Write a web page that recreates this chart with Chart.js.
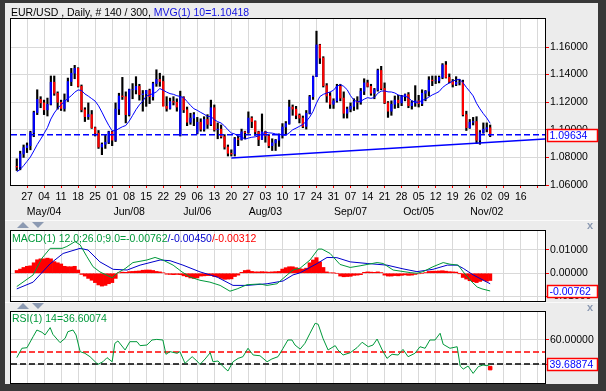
<!DOCTYPE html>
<html>
<head>
<meta charset="utf-8">
<script src="https://cdn.jsdelivr.net/npm/chart.js@4.4.1/dist/chart.umd.min.js"></script>
<style>
  html, body { margin: 0; padding: 0; }
  body { width: 606px; height: 391px; background: #383838; position: relative; overflow: hidden;
         font-family: "Liberation Sans", Arial, sans-serif; }
  #inner { position: absolute; left: 5px; top: 3px; width: 593px; height: 381px; background: #ececec; }
  canvas { position: absolute; left: 0; }
  .sep { position: absolute; left: 5px; width: 593px; height: 1px; background: #fafafa; }
  .txt { position: absolute; font-size: 10.5px; line-height: 12px; white-space: nowrap; z-index: 2; }
  .up, .down { position: absolute; width: 0; height: 0; z-index: 2;
               border-left: 6px solid transparent; border-right: 6px solid transparent; }
  .up { border-bottom: 6px solid #8c9ab2; }
  .down { border-top: 6px solid #8c9ab2; }
  .close { position: absolute; left: 587px; font: bold 11px Arial, sans-serif; line-height: 9px; color: #8c9ab2; z-index: 2; }
</style>
</head>
<body>
<div id="inner"></div>
<div class="sep" style="top:220px"></div>
<div class="sep" style="top:302px"></div>

<canvas id="price" width="606" height="220" style="top:0"></canvas>
<canvas id="macd" width="606" height="82" style="top:220px"></canvas>
<canvas id="rsi" width="606" height="89" style="top:302px"></canvas>

<div class="txt" style="left:11px;top:6px"><span style="color:#000">EUR/USD , Daily, # 140 / 300, </span><span style="color:#1010e0">MVG(1) 10=1.10418</span></div>
<div class="txt" style="left:12px;top:232px"><span style="color:#00993a">MACD(1) 12.0;26.0;9.0=-0.00762</span><span style="color:#0000cc">/-0.00450</span><span style="color:#ff0000">/-0.00312</span></div>
<div class="txt" style="left:12px;top:312px;color:#00993a">RSI(1) 14=36.60074</div>

<div class="up" style="left:17px;top:222px"></div>
<div class="down" style="left:32px;top:222px"></div>
<div class="close" style="top:221px">x</div>
<div class="up" style="left:17px;top:303px"></div>
<div class="down" style="left:32px;top:303px"></div>
<div class="close" style="top:303px">x</div>

<script>
// ---------- axis labels ----------
const weekLabels = ['27','04','11','18','25','01','08','15','22','29','06','13','20','27','03',
                    '10','17','24','31','07','14','21','28','05','12','19','26','02','09','16'];
const monthLabels = ['May/04','Jun/08','Jul/06','Aug/03','Sep/07','Oct/05','Nov/02'];
const monthWeeks = [1, 6, 10, 14, 19, 23, 27];   // which week tick each month label sits under
const firstMonday = 3;                            // bar index of the first week tick (Apr 27)
const barsPerWeek = 5;
const priceTicks = [1.06, 1.08, 1.10, 1.12, 1.14, 1.16];
const macdTicks = [-0.01, 0, 0.01];
const rsiTicks = [40, 60];

// ---------- daily OHLC, Apr 22 .. Nov 03 ----------
const opens = [
  1.0735,1.0730,1.0825,1.0870,1.0885,1.0980,1.1125,1.1220,1.1195,1.1145,
  1.1185,1.1345,1.1265,1.1200,1.1155,1.1215,1.1350,1.1410,1.1445,1.1315,
  1.1145,1.1095,1.1110,1.1015,1.0975,1.0875,1.0895,1.0910,1.0985,1.0925,
  1.1150,1.1245,1.1240,1.1110,1.1290,1.1290,1.1315,1.1255,1.1260,1.1285,
  1.1240,1.1335,1.1365,1.1350,1.1170,1.1155,1.1205,1.1200,1.0960,1.1235,
  1.1145,1.1055,1.1085,1.0975,1.1055,1.1005,1.1075,1.1040,1.1160,1.1000,
  1.1005,1.0950,1.0875,1.0830,1.0825,1.0935,1.0930,1.0985,1.0980,1.1085,
  1.1060,1.0985,1.0930,1.0985,1.0955,1.0885,1.0905,1.0925,1.0965,1.1020,
  1.1045,1.1165,1.1150,1.1105,1.1085,1.1025,1.1120,1.1240,1.1385,1.1615,
  1.1520,1.1320,1.1245,1.1185,1.1210,1.1315,1.1230,1.1120,1.1150,1.1170,
  1.1205,1.1200,1.1280,1.1340,1.1315,1.1265,1.1290,1.1430,1.1300,1.1195,
  1.1135,1.1185,1.1215,1.1195,1.1240,1.1255,1.1175,1.1195,1.1210,1.1190,
  1.1265,1.1280,1.1360,1.1355,1.1355,1.1380,1.1470,1.1380,1.1350,1.1330,
  1.1345,1.1345,1.1110,1.1015,1.1055,1.1060,1.0925,1.0980,1.1005,1.1015
];
const highs = [
  1.0790,1.0845,1.0890,1.0905,1.0990,1.1135,1.1290,1.1240,1.1215,1.1230,
  1.1390,1.1390,1.1275,1.1215,1.1260,1.1375,1.1445,1.1467,1.1450,1.1325,
  1.1160,1.1195,1.1140,1.1020,1.0995,1.0905,1.0965,1.0990,1.0990,1.1195,
  1.1265,1.1380,1.1275,1.1295,1.1335,1.1385,1.1330,1.1285,1.1285,1.1295,
  1.1345,1.1435,1.1410,1.1390,1.1240,1.1230,1.1240,1.1225,1.1280,1.1240,
  1.1165,1.1120,1.1125,1.1090,1.1080,1.1095,1.1110,1.1215,1.1180,1.1050,
  1.1035,1.0965,1.0890,1.0855,1.0945,1.0955,1.1005,1.0990,1.1130,1.1095,
  1.1065,1.0990,1.1115,1.0990,1.0965,1.0935,1.0930,1.0970,1.1045,1.1060,
  1.1215,1.1180,1.1170,1.1115,1.1100,1.1140,1.1250,1.1390,1.1715,1.1620,
  1.1530,1.1335,1.1270,1.1225,1.1330,1.1330,1.1275,1.1165,1.1195,1.1225,
  1.1240,1.1300,1.1370,1.1360,1.1330,1.1300,1.1440,1.1460,1.1340,1.1205,
  1.1210,1.1245,1.1250,1.1250,1.1260,1.1270,1.1210,1.1320,1.1250,1.1290,
  1.1285,1.1385,1.1390,1.1390,1.1390,1.1480,1.1495,1.1405,1.1365,1.1385,
  1.1365,1.1360,1.1135,1.1075,1.1090,1.1095,1.0995,1.1050,1.1050,1.1035
];
const lows = [
  1.0705,1.0710,1.0800,1.0835,1.0855,1.0950,1.1110,1.1160,1.1110,1.1100,
  1.1180,1.1250,1.1150,1.1140,1.1135,1.1205,1.1320,1.1370,1.1310,1.1130,
  1.1060,1.1075,1.1010,1.0955,1.0865,1.0820,1.0865,1.0900,1.0885,1.0915,
  1.1110,1.1220,1.1050,1.1100,1.1225,1.1260,1.1215,1.1135,1.1170,1.1190,
  1.1215,1.1315,1.1315,1.1175,1.1135,1.1150,1.1180,1.1135,1.0955,1.1125,
  1.1030,1.1040,1.1030,1.0970,1.0990,1.0990,1.1010,1.1030,1.0990,1.0935,
  1.0940,1.0860,1.0810,1.0810,1.0810,1.0885,1.0925,1.0935,1.0975,1.1015,
  1.0960,1.0885,1.0930,1.0910,1.0870,1.0850,1.0850,1.0880,1.0940,1.0970,
  1.1040,1.1105,1.1080,1.1050,1.1015,1.1005,1.1115,1.1220,1.1385,1.1480,
  1.1310,1.1200,1.1155,1.1155,1.1200,1.1210,1.1085,1.1085,1.1130,1.1140,
  1.1150,1.1185,1.1255,1.1310,1.1250,1.1225,1.1280,1.1290,1.1190,1.1090,
  1.1105,1.1155,1.1160,1.1175,1.1210,1.1160,1.1150,1.1170,1.1165,1.1175,
  1.1210,1.1245,1.1320,1.1335,1.1340,1.1370,1.1375,1.1340,1.1310,1.1320,
  1.1325,1.1100,1.0995,1.1010,1.1035,1.0900,1.0895,1.0975,1.0985,1.0950
];
const closes = [
  1.0730,1.0825,1.0870,1.0885,1.0980,1.1125,1.1220,1.1195,1.1145,1.1185,
  1.1345,1.1265,1.1200,1.1155,1.1215,1.1350,1.1410,1.1445,1.1315,1.1145,
  1.1095,1.1110,1.1015,1.0975,1.0875,1.0895,1.0910,1.0985,1.0925,1.1150,
  1.1245,1.1240,1.1110,1.1290,1.1290,1.1315,1.1255,1.1260,1.1285,1.1240,
  1.1335,1.1365,1.1350,1.1170,1.1155,1.1205,1.1200,1.1165,1.1235,1.1145,
  1.1055,1.1085,1.1110,1.1055,1.1005,1.1075,1.1040,1.1160,1.1000,1.1005,
  1.0950,1.0875,1.0830,1.0825,1.0935,1.0930,1.0985,1.0980,1.1085,1.1060,
  1.0985,1.0930,1.0985,1.0955,1.0885,1.0905,1.0925,1.0965,1.1020,1.1045,
  1.1165,1.1150,1.1105,1.1085,1.1025,1.1120,1.1240,1.1385,1.1615,1.1520,
  1.1320,1.1245,1.1185,1.1210,1.1315,1.1230,1.1120,1.1150,1.1170,1.1205,
  1.1200,1.1280,1.1340,1.1315,1.1265,1.1290,1.1430,1.1300,1.1195,1.1135,
  1.1185,1.1215,1.1195,1.1240,1.1255,1.1175,1.1195,1.1210,1.1190,1.1265,
  1.1280,1.1360,1.1355,1.1355,1.1380,1.1470,1.1380,1.1350,1.1330,1.1345,
  1.1345,1.1110,1.1015,1.1055,1.1060,1.0925,1.0980,1.1005,1.1015,1.0963
];
// MVG(1) 10
const ma10 = [
  1.0696,1.0713,1.0740,1.0771,1.0803,1.0847,1.0893,1.0932,1.0973,1.1016,
  1.1078,1.1122,1.1155,1.1182,1.1205,1.1228,1.1247,1.1272,1.1289,1.1285,
  1.1260,1.1244,1.1226,1.1208,1.1174,1.1128,1.1078,1.1032,1.0993,1.0994,
  1.1009,1.1022,1.1031,1.1063,1.1104,1.1146,1.1181,1.1208,1.1244,1.1253,
  1.1262,1.1275,1.1299,1.1287,1.1273,1.1262,1.1257,1.1247,1.1242,1.1233,
  1.1205,1.1177,1.1153,1.1141,1.1126,1.1113,1.1097,1.1097,1.1073,1.1059,
  1.1049,1.1028,1.1000,1.0977,1.0970,1.0955,1.0950,1.0932,1.0940,1.0946,
  1.0949,1.0955,1.0970,1.0983,1.0978,1.0976,1.0970,1.0968,1.0962,1.0960,
  1.0978,1.1000,1.1012,1.1025,1.1039,1.1061,1.1092,1.1134,1.1194,1.1241,
  1.1257,1.1266,1.1274,1.1287,1.1316,1.1327,1.1315,1.1291,1.1247,1.1215,
  1.1203,1.1207,1.1222,1.1233,1.1228,1.1234,1.1265,1.1280,1.1282,1.1275,
  1.1274,1.1267,1.1253,1.1245,1.1244,1.1233,1.1209,1.1200,1.1200,1.1213,
  1.1222,1.1237,1.1253,1.1264,1.1277,1.1306,1.1325,1.1339,1.1353,1.1361,
  1.1367,1.1342,1.1308,1.1278,1.1246,1.1192,1.1152,1.1117,1.1086,1.1047
];
const currentPrice = 1.09634;
const trendLine = [[63, 1.0795], [155.1, 1.0934]];

// ---------- MACD(12,26,9) ----------
const macdPoints = [
  [0,-0.0057],[4.8,-0.0007],[7.4,0.0065],[9.8,0.0107],[13.3,0.0107],[14.7,0.0115],[17.1,0.0136],
  [18.6,0.0122],[20.6,0.0071],[22.4,0.0028],[24.4,0.0006],[26.5,-0.0009],[28,-0.0019],[29.4,0],
  [31.8,0.0020],[34.1,0.0046],[38.2,0.0057],[40.6,0.0068],[42.9,0.0057],[45.9,0.0035],[48.5,0.0006],
  [50.9,-0.0016],[53.8,-0.0030],[56.7,-0.0038],[59.7,-0.0052],[62.6,-0.0077],[64.7,-0.0067],
  [67.6,-0.0049],[71.4,-0.0046],[73.5,-0.0052],[76.4,-0.0045],[79.4,-0.0007],[81.1,0.0014],
  [83.2,0.0022],[86.1,0.0057],[88.5,0.0104],[89.6,0.0104],[92,0.0085],[94.9,0.0038],[97.9,0.0025],
  [100.8,0.0032],[105.8,0.0046],[107.6,0.0042],[110.5,0.0014],[115.5,0.0003],[117.5,0],[119.3,0.0007],
  [122.2,0.0028],[125.2,0.0046],[127.2,0.0039],[129.6,0.0035],[131.1,0.0006],[133.7,-0.0038],
  [135.2,-0.0059],[136.6,-0.0067],[139,-0.0076]
];
const signalPoints = [
  [0,-0.0067],[4.8,-0.0038],[9.8,0.0041],[13.6,0.0085],[18.6,0.0107],[20.9,0.0100],[24.4,0.0049],
  [28.3,0.0017],[32.4,0.0014],[36.2,0.0035],[42.1,0.0057],[45,0.0054],[48.8,0.0035],[53.8,0.0006],
  [58.8,-0.0016],[63.5,-0.0052],[67.6,-0.0052],[73.5,-0.0045],[78.2,-0.0033],[81.1,-0.0007],
  [83.2,0.0002],[88.2,0.0042],[91.1,0.0068],[94,0.0067],[97.9,0.0049],[102.9,0.0042],[108.7,0.0035],
  [113.4,0.0019],[117.5,0.0007],[122.2,0.0017],[126.4,0.0035],[129.3,0.0035],[131.1,0.0021],
  [134,-0.0007],[139,-0.0045]
];
const macdHist = [
  0.0012,0.0018,0.0025,0.0030,0.0032,0.0045,0.0058,0.0062,0.0062,0.0065,
  0.0062,0.0050,0.0045,0.0040,0.0030,0.0028,0.0028,0.0030,0.0014,-0.0005,
  -0.0012,-0.0022,-0.0030,-0.0040,-0.0050,-0.0055,-0.0052,-0.0045,-0.0040,-0.0022,
  0.0002,0.0005,0.0004,0.0007,0.0008,0.0009,0.0010,0.0013,0.0014,0.0014,
  0.0012,0.0008,0.0006,0.0002,-0.0004,-0.0005,-0.0006,-0.0005,-0.0006,-0.0011,
  -0.0015,-0.0020,-0.0022,-0.0020,-0.0012,-0.0011,-0.0010,-0.0010,-0.0014,-0.0016,
  -0.0022,-0.0026,-0.0025,-0.0024,-0.0014,-0.0008,0.0004,0.0012,0.0014,0.0008,
  0.0006,0.0006,0.0007,0.0006,0.0005,0.0006,0.0007,0.0008,0.0018,0.0024,
  0.0028,0.0028,0.0024,0.0020,0.0018,0.0022,0.0045,0.0057,0.0067,0.0049,
  0.0025,0.0006,0.0002,0.0001,0.0000,-0.0012,-0.0015,-0.0014,-0.0013,-0.0009,
  -0.0008,-0.0006,0.0004,0.0006,0.0005,0.0004,0.0006,0.0003,-0.0008,-0.0012,
  -0.0012,-0.0010,-0.0011,-0.0009,-0.0007,-0.0009,-0.0008,-0.0005,-0.0002,0.0000,
  0.0003,0.0008,0.0009,0.0009,0.0010,0.0011,0.0009,0.0007,0.0006,0.0005,
  -0.0001,-0.0018,-0.0025,-0.0032,-0.0036,-0.0040,-0.0035,-0.0030,-0.0034,-0.0031
];
const macdLast = -0.00762;

// ---------- RSI(14) ----------
const rsiPoints = [
  [0,45.3],[1.5,53.1],[3,53.6],[4.8,62.8],[5.9,68.3],[7.4,66.4],[8.3,64.2],[9.8,70.3],[10.6,64.7],
  [12.7,57.8],[14.2,61.4],[15,66.9],[16.5,68.3],[17.4,64.2],[18.6,50.3],[20,48.9],[21.5,46.1],
  [23.8,39.7],[25.3,41.9],[26.5,45.3],[28,41.9],[28.8,57.2],[29.7,59.2],[31.8,51.7],[33.2,58.6],
  [35.3,58.6],[36.2,55.3],[38.2,55.8],[39.7,60],[41.1,60.5],[42.9,60],[43.8,48.1],[45,50.3],
  [47.1,48.9],[47.9,50.3],[49.4,40.6],[51.5,46.1],[52.9,42.5],[53.8,39.7],[55.3,44.2],[56.8,49.4],
  [57.6,41.9],[59.1,42.5],[60.6,37.8],[62,34.2],[63.5,41.9],[65,44.7],[66.4,46.1],[67.9,53.1],
  [69.4,47.5],[71.4,46.9],[73.5,41.9],[74.9,44.2],[76.7,46.1],[78.2,53.1],[79.6,60],[80.8,60],
  [81.7,55.8],[83.2,52.4],[84.6,57.2],[86.1,65.6],[87.6,73.9],[88.5,73.1],[89.9,61.4],[91.4,51.7],
  [93.5,55.3],[94.3,51.7],[95.8,47.5],[97.9,49.4],[99.9,53.6],[101.4,58.1],[103.2,54.4],[104.6,55.8],
  [105.8,60.8],[107.3,51.7],[108.7,44.7],[110.2,48.1],[112,47.5],[113.4,52.2],[114.9,46.1],
  [116.9,48.9],[118.4,54.4],[119.9,53.1],[121.3,60],[122.8,60],[124.3,65.6],[125.2,56.4],
  [127.2,53.1],[129.3,54.4],[130.2,38.3],[131.1,35.8],[132.5,38.3],[134,32.2],[135.5,37.8],
  [136.9,39.2],[138.1,38.6],[139,39.7]
];
const rsiLast = 36.60074;
const rsiBoxValue = 39.68874;
const rsiLevels = [50, 40];

// ---------- styling ----------
Chart.defaults.font.family = '"Liberation Sans", Arial, sans-serif';
Chart.defaults.font.size = 10.5;
Chart.defaults.color = '#000';

const GRID = '#d9d9d9';
const BLUE = '#0000ff';
const RED = '#ff0000';
const GREEN = '#00993a';
const X_MIN = -1.7, X_MAX = 155.1;
const RIGHT_AXIS_W = 61;

const weekTicks = [];
for (let w = 0; w <= weekLabels.length; w++) weekTicks.push(firstMonday + w * barsPerWeek);

function xAxis(showLabels) {
  return {
    type: 'linear', min: X_MIN, max: X_MAX, offset: false,
    grid: { color: GRID, offset: false, drawTicks: showLabels, tickLength: 3, tickColor: RED },
    border: { display: false },
    ticks: {
      display: showLabels, autoSkip: false, maxRotation: 0, padding: 3,
      callback: v => weekLabels[Math.round((v - firstMonday) / barsPerWeek)] || ''
    },
    afterBuildTicks: s => { s.ticks = weekTicks.map(v => ({ value: v })); },
    afterFit: s => { s.height = showLabels ? 35 : 0; s.paddingLeft = 0; s.paddingRight = 0; }
  };
}

function yAxis(min, max, tickValues) {
  return {
    position: 'right', min: min, max: max, beginAtZero: false,
    grid: { color: GRID, drawTicks: true, tickLength: 4, tickColor: RED },
    border: { display: true, color: '#000' },
    ticks: { padding: 1, callback: v => v.toFixed(5) },
    afterBuildTicks: s => { s.ticks = tickValues.map(v => ({ value: v })); },
    afterFit: s => { s.width = RIGHT_AXIS_W; s.paddingTop = 0; s.paddingBottom = 0; }
  };
}

// white plot background + black frame
const plotFrame = {
  id: 'plotFrame',
  beforeDraw(chart) {
    const a = chart.chartArea, ctx = chart.ctx;
    ctx.save();
    ctx.fillStyle = '#fff';
    ctx.fillRect(a.left, a.top, a.right - a.left, a.bottom - a.top);
    ctx.restore();
  },
  afterDraw(chart) {
    const a = chart.chartArea, ctx = chart.ctx;
    ctx.save();
    ctx.strokeStyle = '#000';
    ctx.lineWidth = 1;
    ctx.strokeRect(a.left - 0.5, a.top - 0.5, a.right - a.left + 1, a.bottom - a.top + 1);
    ctx.restore();
  }
};

// red-bordered box with the last value on the right axis
function valueBox(value, text) {
  return {
    id: 'valueBox',
    afterDraw(chart) {
      const ctx = chart.ctx, y = Math.round(chart.scales.y.getPixelForValue(value));
      const x = chart.chartArea.right + 2;
      ctx.save();
      ctx.fillStyle = '#fff';
      ctx.fillRect(x, y - 6, 50, 13);
      ctx.strokeStyle = RED;
      ctx.lineWidth = 1.5;
      ctx.strokeRect(x + 0.5, y - 5.5, 50, 12);
      ctx.fillStyle = BLUE;
      ctx.font = '10.5px "Liberation Sans", Arial, sans-serif';
      ctx.textAlign = 'left';
      ctx.textBaseline = 'middle';
      ctx.fillText(text, x + 2.5, y + 1);
      ctx.restore();
    }
  };
}

const monthRow = {
  id: 'monthRow',
  afterDraw(chart) {
    const ctx = chart.ctx, xs = chart.scales.x;
    ctx.save();
    ctx.fillStyle = '#000';
    ctx.font = '10.5px "Liberation Sans", Arial, sans-serif';
    ctx.textAlign = 'center';
    ctx.textBaseline = 'middle';
    monthLabels.forEach((m, i) => {
      ctx.fillText(m, xs.getPixelForValue(firstMonday + monthWeeks[i] * barsPerWeek), 212);
    });
    ctx.restore();
  }
};

const baseOptions = {
  responsive: false, animation: false, devicePixelRatio: 1, events: [],
  plugins: { legend: { display: false }, tooltip: { enabled: false } }
};

// ---------- price panel ----------
const barIdx = closes.map((_, i) => i);
const rangeData = barIdx.map(i => ({ x: i, y: [lows[i], highs[i]] }));
const bodyData = barIdx.map(i => ({ x: i, y: [Math.min(opens[i], closes[i]), Math.max(opens[i], closes[i])] }));
const bodyColors = barIdx.map(i => closes[i] >= opens[i] ? BLUE : RED);

new Chart(document.getElementById('price'), {
  type: 'bar',
  data: {
    datasets: [
      { type: 'line', data: ma10.map((v, i) => ({ x: i, y: v })), borderColor: BLUE, borderWidth: 1,
        pointRadius: 0, tension: 0, order: 0 },
      { type: 'line', data: [{ x: X_MIN, y: currentPrice }, { x: X_MAX, y: currentPrice }],
        borderColor: BLUE, borderWidth: 1.5, borderDash: [6, 3], pointRadius: 0, order: 1 },
      { type: 'line', data: trendLine.map(p => ({ x: p[0], y: p[1] })), borderColor: BLUE, borderWidth: 1.5,
        pointRadius: 0, order: 1 },
      { data: bodyData, backgroundColor: bodyColors, barThickness: 1.5, grouped: false, order: 2 },
      { data: rangeData, backgroundColor: '#000', barThickness: 1.5, grouped: false, order: 3 }
    ]
  },
  options: Object.assign({}, baseOptions, {
    layout: { padding: { left: 11, top: 19, right: 0, bottom: 0 } },
    scales: { x: xAxis(true), y: yAxis(1.06, 1.1803, priceTicks) }
  }),
  plugins: [plotFrame, monthRow, valueBox(currentPrice, currentPrice.toFixed(5))]
});

// ---------- MACD panel ----------
new Chart(document.getElementById('macd'), {
  type: 'bar',
  data: {
    datasets: [
      { type: 'line', data: macdPoints.map(p => ({ x: p[0], y: p[1] })), borderColor: GREEN, borderWidth: 1,
        pointRadius: 0, tension: 0, order: 0 },
      { type: 'line', data: signalPoints.map(p => ({ x: p[0], y: p[1] })), borderColor: '#0000cc', borderWidth: 1,
        pointRadius: 0, tension: 0, order: 0 },
      { data: macdHist.map((v, i) => ({ x: i, y: v })), backgroundColor: RED, barPercentage: 1,
        categoryPercentage: 1, grouped: false, order: 1 }
    ]
  },
  options: Object.assign({}, baseOptions, {
    layout: { padding: { left: 11, top: 11, right: 0, bottom: 1 } },
    scales: { x: xAxis(false), y: yAxis(-0.0119, 0.01815, macdTicks) }
  }),
  plugins: [plotFrame, valueBox(macdLast, macdLast.toFixed(5))]
});

// ---------- RSI panel ----------
new Chart(document.getElementById('rsi'), {
  type: 'line',
  data: {
    datasets: [
      { data: rsiPoints.map(p => ({ x: p[0], y: p[1] })), borderColor: GREEN, borderWidth: 1,
        pointRadius: 0, tension: 0, order: 0 },
      { data: [{ x: 139, y: rsiLast }], showLine: false, pointStyle: 'rect', pointRadius: 2.5,
        backgroundColor: RED, borderColor: RED, order: 0 },
      { data: [{ x: X_MIN, y: rsiLevels[0] }, { x: X_MAX, y: rsiLevels[0] }], borderColor: RED,
        borderWidth: 1.5, borderDash: [6, 3], pointRadius: 0, order: 1 },
      { data: [{ x: X_MIN, y: rsiLevels[1] }, { x: X_MAX, y: rsiLevels[1] }], borderColor: '#000',
        borderWidth: 1.5, borderDash: [6, 3], pointRadius: 0, order: 1 }
    ]
  },
  options: Object.assign({}, baseOptions, {
    layout: { padding: { left: 11, top: 10, right: 0, bottom: 8 } },
    scales: { x: xAxis(false), y: yAxis(24.2, 83.3, rsiTicks) }
  }),
  plugins: [plotFrame, valueBox(rsiBoxValue, rsiBoxValue.toFixed(5))]
});
</script>
</body>
</html>
